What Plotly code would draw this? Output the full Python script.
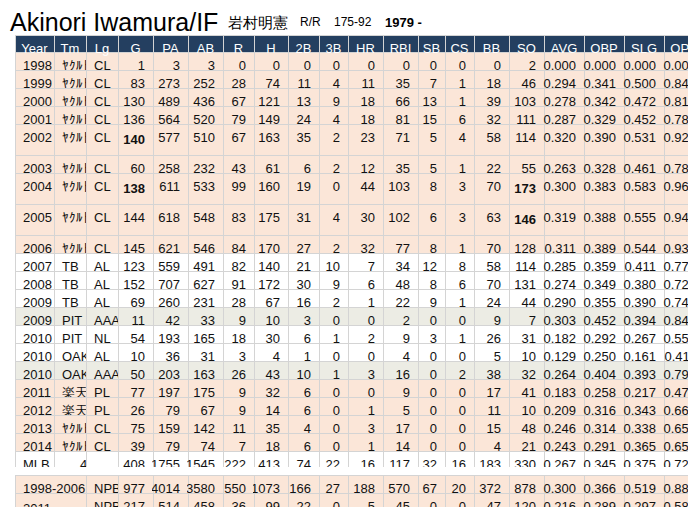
import plotly.graph_objects as go

columns = ['Year', 'Tm', 'Lg', 'G', 'PA', 'AB', 'R', 'H', '2B', '3B', 'HR', 'RBI',
           'SB', 'CS', 'BB', 'SO', 'AVG', 'OBP', 'SLG', 'OPS']

years = ['1998', '1999', '2000', '2001', '2002', '2003', '2004', '2005', '2006', '2007', '2008',
         '2009', '2009', '2010', '2010', '2010', '2011', '2012', '2013', '2014', 'MLB', 'MiLB', 'NPB']
teams = ['ﾔｸﾙﾄ'] * 9 + ['TB', 'TB', 'TB', 'PIT', 'PIT', 'OAK', 'OAK', '楽天', '楽天',
                        'ﾔｸﾙﾄ', 'ﾔｸﾙﾄ', '\u00a0\u00a0\u00a0\u00a0\u00a04', '\u00a0\u00a0\u00a0\u00a0\u00a02',
                        '\u00a0\u00a0\u00a0\u00a013']
leagues = ['CL'] * 9 + ['AL', 'AL', 'AL', 'AAA', 'NL', 'AL', 'AAA', 'PL', 'PL', 'CL', 'CL', '', '', '']
kinds = ['npb'] * 9 + ['mlb', 'mlb', 'mlb', 'milb', 'mlb', 'mlb', 'milb',
                       'npb', 'npb', 'npb', 'npb', 'mlb', 'milb', 'npb']

G = [1, 83, 130, 136, '<b>140</b>', 60, '<b>138</b>', 144, 145, 123, 152, 69, 11, 54, 10, 50, 77, 26, 75, 39, 408, 61, 1194]
PA = [3, 273, 489, 564, 577, 258, 611, 618, 621, 559, 707, 260, 42, 193, 36, 203, 197, 79, 159, 79, 1755, 245, 4528]
AB = [3, 252, 436, 520, 510, 232, 533, 548, 546, 491, 627, 231, 33, 165, 31, 163, 175, 67, 142, 74, 1545, 196, 4038]
R = [0, 28, 67, 79, 67, 43, 99, 83, 84, 82, 91, 28, 9, 18, 3, 26, 9, 9, 11, 7, 222, 35, 586]
H = [0, 74, 121, 149, 163, 61, 160, 175, 170, 140, 172, 67, 10, 30, 4, 43, 32, 14, 35, 18, 413, 53, 1172]
B2 = [0, 11, 13, 24, 35, 6, 19, 31, 27, 21, 30, 16, 3, 6, 1, 10, 6, 6, 4, 6, 74, 13, 188]
B3 = [0, 4, 9, 4, 2, 2, 0, 4, 2, 10, 9, 2, 0, 1, 0, 1, 0, 0, 0, 0, 22, 1, 27]
HR = [0, 11, 18, 18, 23, 12, 44, 30, 32, 7, 6, 1, 0, 2, 0, 3, 0, 1, 3, 1, 16, 3, 193]
RBI = [0, 35, 66, 81, 71, 35, 103, 102, 77, 34, 48, 22, 2, 9, 4, 16, 9, 5, 17, 14, 117, 18, 615]
SB = [0, 7, 13, 15, 5, 5, 8, 6, 8, 12, 8, 9, 0, 3, 0, 0, 0, 0, 0, 0, 32, 0, 67]
CS = [0, 1, 1, 6, 4, 1, 3, 3, 1, 8, 6, 1, 0, 1, 0, 2, 0, 0, 0, 0, 16, 2, 20]
BB = [0, 18, 39, 32, 58, 22, 70, 63, 70, 58, 70, 24, 9, 26, 5, 38, 17, 11, 15, 4, 183, 47, 419]
SO = [2, 46, 103, 111, 114, 55, '<b>173</b>', '<b>146</b>', 128, 114, 131, 44, 7, 31, 10, 32, 41, 10, 48, 21, 330, 39, 998]
AVG = ['0.000', '0.294', '0.278', '0.287', '0.320', '0.263', '0.300', '0.319', '0.311', '0.285', '0.274', '0.290',
       '0.303', '0.182', '0.129', '0.264', '0.183', '0.209', '0.246', '0.243', '0.267', '0.270', '0.290']
OBP = ['0.000', '0.341', '0.342', '0.329', '0.390', '0.328', '0.383', '0.388', '0.389', '0.359', '0.349', '0.355',
       '0.452', '0.292', '0.250', '0.404', '0.258', '0.316', '0.314', '0.291', '0.345', '0.412', '0.358']
SLG = ['0.000', '0.500', '0.472', '0.452', '0.531', '0.461', '0.583', '0.555', '0.544', '0.411', '0.380', '0.390',
       '0.394', '0.267', '0.161', '0.393', '0.217', '0.343', '0.338', '0.365', '0.375', '0.393', '0.494']
OPS = ['0.000', '0.841', '0.814', '0.781', '0.921', '0.789', '0.966', '0.943', '0.933', '0.770', '0.729', '0.745',
       '0.846', '0.558', '0.411', '0.797', '0.475', '0.660', '0.652', '0.656', '0.720', '0.805', '0.851']

# split summary rows
span_labels = ['1998-2006', '2011 - 2014']
span_lg = ['NPB', 'NPB']
span_stats = [
    [977, 4014, 3580, 550, 1073, 166, 27, 188, 570, 67, 20, 372, 878, '0.300', '0.366', '0.519', '0.884'],
    [217, 514, 458, 36, 99, 22, 0, 5, 45, 0, 0, 47, 120, '0.216', '0.289', '0.297', '0.586'],
]

col_px = [39, 32, 32, 35, 35, 35, 31, 34, 31, 29, 35, 35, 27, 29, 35, 35, 40, 40, 40, 40]
fills = {'npb': '#fbe6d8', 'mlb': '#ffffff', 'milb': '#ecece4'}
line_col = '#d4d4d4'
font = 'Liberation Sans, Arial, sans-serif'
W, H_PX = 696, 507

row_fill = [fills[k] for k in kinds]
values = [years, teams, leagues, G, PA, AB, R, H, B2, B3, HR, RBI, SB, CS, BB, SO, AVG, OBP, SLG, OPS]
align = ['left', 'left', 'left'] + ['right'] * 17

fig = go.Figure()
fig.add_trace(go.Table(
    domain=dict(x=[7 / W, 1], y=[1 - 460 / H_PX, 1 - 27 / H_PX]),
    columnwidth=col_px,
    header=dict(values=columns, fill_color='#243f60', line_color=line_col, height=17,
                align='center', font=dict(family=font, size=13, color='white')),
    cells=dict(values=values, fill_color=[row_fill] * 20, line_color=line_col, height=18,
               align=align, font=dict(family=font, size=13, color='#111111')),
))

# second table: first summary row as header, second as cell row
w2 = [col_px[0] + col_px[1], col_px[2]] + col_px[3:]
r1 = [span_labels[0], span_lg[0]] + [str(v) for v in span_stats[0]]
r2 = [[span_labels[1]], [span_lg[1]]] + [[str(v)] for v in span_stats[1]]
al2 = ['left', 'left'] + ['right'] * 17
fig.add_trace(go.Table(
    domain=dict(x=[7 / W, 1], y=[1 - 506 / H_PX, 1 - 467 / H_PX]),
    columnwidth=w2,
    header=dict(values=r1, fill_color='#fbe6d8', line_color=line_col, height=18,
                align=al2, font=dict(family=font, size=13, color='#111111')),
    cells=dict(values=r2, fill_color='#fbe6d8', line_color=line_col, height=18,
               align=al2, font=dict(family=font, size=13, color='#111111')),
))

title_parts = [
    (0, 'Akinori Iwamura/IF', 25, '#000000'),
    (218, '岩村明憲', 15, '#000000'),
    (290, 'R/R', 12, '#000000'),
    (324, '175-92', 12, '#000000'),
    (375, '<b>1979 -</b>', 13, '#000000'),
]
for x, txt, sz, col in title_parts:
    fig.add_annotation(x=x / W, y=1 - 14 / H_PX, xref='paper', yref='paper', text=txt,
                       showarrow=False, xanchor='left', yanchor='middle',
                       font=dict(family=font, size=sz, color=col))

fig.update_layout(width=W, height=H_PX, margin=dict(l=0, r=0, t=0, b=0),
                  paper_bgcolor='white', plot_bgcolor='white')
fig.write_html("out.html")
